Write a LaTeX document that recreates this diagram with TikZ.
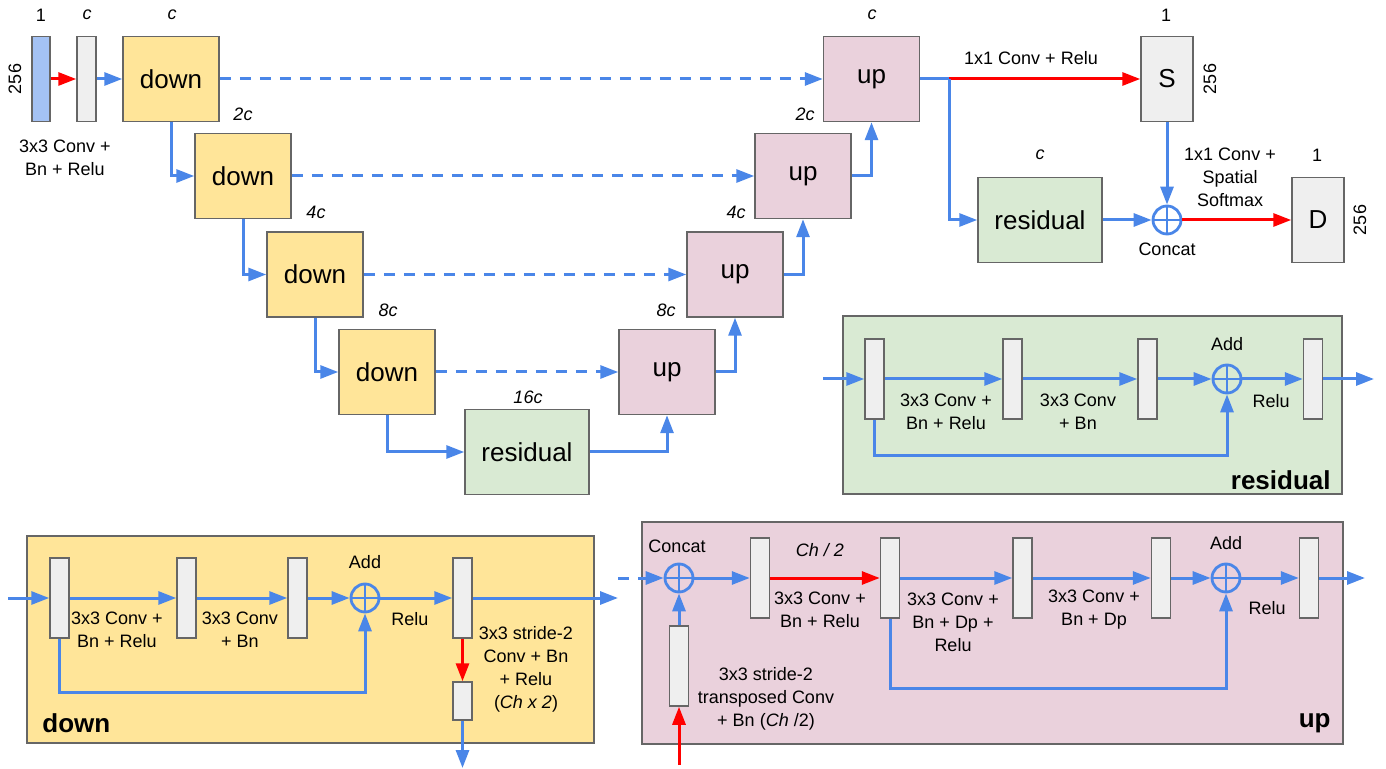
\documentclass[tikz,border=0pt]{standalone}
\usepackage{fontspec}
\setmainfont{Liberation Sans}
\usetikzlibrary{arrows.meta}

\definecolor{flowblue}{HTML}{4A86E8}
\definecolor{flowred}{HTML}{FF0000}
\definecolor{downfill}{HTML}{FFE599}
\definecolor{upfill}{HTML}{EAD1DC}
\definecolor{resfill}{HTML}{D9EAD3}
\definecolor{barfill}{HTML}{EFEFEF}
\definecolor{imgfill}{HTML}{A4C2F4}
\definecolor{edge}{HTML}{666666}

\begin{document}
\begin{tikzpicture}[
	x=0.5pt, y=-0.5pt,
	box/.style={ draw=edge, line width=0.75pt, inner sep=0pt, minimum width=48pt, minimum height=42.5pt, font=\fontsize{13}{15}\selectfont },
	downbox/.style={ box, fill=downfill },
	upbox/.style={ box, fill=upfill },
	resbox/.style={ box, fill=resfill, minimum width=62pt },
	outbox/.style={ box, fill=barfill, minimum width=26pt },
	bar/.style={ draw=edge, line width=0.75pt, fill=barfill, inner sep=0pt, minimum width=9.5pt, minimum height=40pt },
	frame/.style={ draw=edge, line width=0.75pt, inner sep=0pt },
	plus/.style={ circle, draw=flowblue, line width=1.4pt, inner sep=0pt, minimum size=14pt, path picture={ \draw[flowblue, line width=1.4pt] (path picture bounding box.north) -- (path picture bounding box.south) (path picture bounding box.west) -- (path picture bounding box.east); } },
	wire/.style={ draw=flowblue, line width=1.5pt },
	flow/.style={ wire, -{Triangle[length=9pt,width=6.5pt]} },
	redflow/.style={ flow, draw=flowred },
	skip/.style={ flow, dash pattern=on 5.5pt off 4.5pt },
	lbl/.style={ font=\fontsize{9}{11.5}\selectfont, align=center, inner sep=0pt },
	dim/.style={ lbl, font=\fontsize{9}{11.5}\selectfont\itshape },
	title/.style={ font=\fontsize{13}{15}\selectfont\bfseries, inner sep=0pt }
]
\useasboundingbox (0,0) rectangle (1386,769);

% encoder / decoder
\node at (41,79) (img) [bar, fill=imgfill, minimum width=9pt, minimum height=42.5pt] {};
\node at (86.5,79) (feat) [bar, minimum height=42.5pt] {};
\node at (171,79) (dn1) [downbox] {down};
\node at (243,176) (dn2) [downbox] {down};
\node at (315,274.5) (dn3) [downbox] {down};
\node at (387,372) (dn4) [downbox] {down};
\node at (527,452) (bott) [resbox] {residual};
\node at (667,372) (up4) [upbox] {up};
\node at (735,274.5) (up3) [upbox] {up};
\node at (803,176) (up2) [upbox] {up};
\node at (871.5,79) (up1) [upbox] {up};

\node at (41,15) (n1) [lbl] {1};
\node at (87,15) (nc0) [dim] {c};
\node at (172,15) (nc1) [dim] {c};
\node at (243,114) (nc2) [dim] {2c};
\node at (316,212) (nc3) [dim] {4c};
\node at (388,310) (nc4) [dim] {8c};
\node at (528,397) (nc5) [dim] {16c};
\node at (666,310) (nc6) [dim] {8c};
\node at (736,212) (nc7) [dim] {4c};
\node at (805,114) (nc8) [dim] {2c};
\node at (872,15) (nc9) [dim] {c};
\node at (15,79) (nh) [lbl, rotate=90] {256};
\node at (65,158) (ninit) [lbl] {3x3 Conv +\\Bn + Relu};

\draw[redflow] (img) -- (feat);
\draw[flow] (feat) -- (dn1);
\draw[flow] (dn1.south) |- (dn2.west);
\draw[flow] (dn2.south) |- (dn3.west);
\draw[flow] (dn3.south) |- (dn4.west);
\draw[flow] (dn4.south) |- (bott.west);
\draw[flow] (bott.east) -| (up4.south);
\draw[flow] (up4.east) -| (up3.south);
\draw[flow] (up3.east) -| (up2.south);
\draw[flow] (up2.east) -| (up1.south);
\draw[skip] (dn1) -- (up1);
\draw[skip] (dn2) -- (up2);
\draw[skip] (dn3) -- (up3);
\draw[skip] (dn4) -- (up4);

% heads
\coordinate (split) at (949,79);
\node at (1040,220) (res2) [resbox] {residual};
\node at (1167,79) (seg) [outbox] {S};
\node at (1167,220) (cat) [plus] {};
\node at (1318,220) (dep) [outbox] {D};

\node at (1166,15) (ns) [lbl] {1};
\node at (1210,79) (nsh) [lbl, rotate=90] {256};
\node at (1317,155) (nd) [lbl] {1};
\node at (1360,220) (ndh) [lbl, rotate=90] {256};
\node at (1040,155) (nc10) [dim] {c};
\node at (1031,58) (nconv) [lbl] {1x1 Conv + Relu};
\node at (1230,177) (nsoft) [lbl] {1x1 Conv +\\Spatial\\Softmax};
\node at (1167,249) (ncat) [lbl] {Concat};

\draw[wire] (up1.east) -- (split);
\draw[redflow] (split) -- (seg);
\draw[flow] (split) |- (res2.west);
\draw[flow] (seg) -- (cat);
\draw[flow] (res2) -- (cat);
\draw[redflow] (cat) -- (dep);

% residual block
\node at (1092.5,405) (rframe) [frame, fill=resfill, minimum width=249.5pt, minimum height=89pt] {};
\coordinate (rin) at (823,379);
\coordinate (rout) at (1374,379);
\node at (874.5,379) (rb1) [bar] {};
\node at (1012.5,379) (rb2) [bar] {};
\node at (1147.5,379) (rb3) [bar] {};
\node at (1227,379) (radd) [plus] {};
\node at (1313,379) (rb4) [bar] {};
\node at (1227,344) (nradd) [lbl] {Add};
\node at (946,412) (nr1) [lbl] {3x3 Conv +\\Bn + Relu};
\node at (1078,412) (nr2) [lbl] {3x3 Conv\\+ Bn};
\node at (1271,401) (nr3) [lbl] {Relu};
\node at (1331,480) (nres) [title, anchor=east] {residual};

\draw[flow] (rin) -- (rb1);
\draw[flow] (rb1) -- (rb2);
\draw[flow] (rb2) -- (rb3);
\draw[flow] (rb3) -- (radd);
\draw[flow] (radd) -- (rb4);
\draw[flow] (rb4) -- (rout);
\draw[flow] (rb1.south) -- ++(0,36) -| (radd.south);

% down block
\node at (310.5,639.5) (dframe) [frame, fill=downfill, minimum width=283.5pt, minimum height=103.5pt] {};
\coordinate (din) at (8,598);
\coordinate (dout) at (618,598);
\coordinate (dbot) at (462.5,768);
\node at (59.5,598) (db1) [bar] {};
\node at (186.5,598) (db2) [bar] {};
\node at (297.5,598) (db3) [bar] {};
\node at (365,598) (dadd) [plus] {};
\node at (462.5,598) (db4) [bar] {};
\node at (462.5,701) (db5) [bar, minimum height=19pt] {};
\node at (365,562) (ndadd) [lbl] {Add};
\node at (117,630) (nd1) [lbl] {3x3 Conv +\\Bn + Relu};
\node at (240,630) (nd2) [lbl] {3x3 Conv\\+ Bn};
\node at (410,619) (nd3) [lbl] {Relu};
\node at (526,669) (nd4) [lbl] {3x3 stride-2\\Conv + Bn\\+ Relu\\(\textit{Ch x 2})};
\node at (42,723) (ndown) [title, anchor=west] {down};

\draw[flow] (din) -- (db1);
\draw[flow] (db1) -- (db2);
\draw[flow] (db2) -- (db3);
\draw[flow] (db3) -- (dadd);
\draw[flow] (dadd) -- (db4);
\draw[flow] (db4) -- (dout);
\draw[flow] (db1.south) -- ++(0,54) -| (dadd.south);
\draw[redflow] (db4) -- (db5);
\draw[flow] (db5) -- (dbot);

% up block
\node at (992.5,633) (uframe) [frame, fill=upfill, minimum width=350.5pt, minimum height=111pt] {};
\coordinate (uin) at (618,578);
\coordinate (uout) at (1365,578);
\coordinate (ubot) at (679,765);
\node at (679,578) (ucat) [plus] {};
\node at (679,666) (ut) [bar] {};
\node at (760,578) (ub1) [bar] {};
\node at (890,578) (ub2) [bar] {};
\node at (1022.5,578) (ub3) [bar] {};
\node at (1161,578) (ub4) [bar] {};
\node at (1226,578) (uadd) [plus] {};
\node at (1309,578) (ub5) [bar] {};
\node at (677,546) (nucat) [lbl] {Concat};
\node at (1226,543) (nuadd) [lbl] {Add};
\node at (820,550) (nu0) [dim] {Ch / 2};
\node at (820,610) (nu1) [lbl] {3x3 Conv +\\Bn + Relu};
\node at (953,622) (nu2) [lbl] {3x3 Conv +\\Bn + Dp +\\Relu};
\node at (1094,610) (nu3) [lbl] {3x3 Conv +\\Bn + Dp};
\node at (1267,608) (nu4) [lbl] {Relu};
\node at (766,699) (nu5) [lbl] {3x3 stride-2\\transposed Conv\\+ Bn (\textit{Ch} /2)};
\node at (1331,723) (nup) [title, anchor=east] {up};

\draw[skip] (uin) -- (ucat);
\draw[redflow] (ubot) -- (ut);
\draw[flow] (ut) -- (ucat);
\draw[flow] (ucat) -- (ub1);
\draw[redflow] (ub1) -- (ub2);
\draw[flow] (ub2) -- (ub3);
\draw[flow] (ub3) -- (ub4);
\draw[flow] (ub4) -- (uadd);
\draw[flow] (uadd) -- (ub5);
\draw[flow] (ub5) -- (uout);
\draw[flow] (ub2.south) -- ++(0,70) -| (uadd.south);

\end{tikzpicture}
\end{document}
